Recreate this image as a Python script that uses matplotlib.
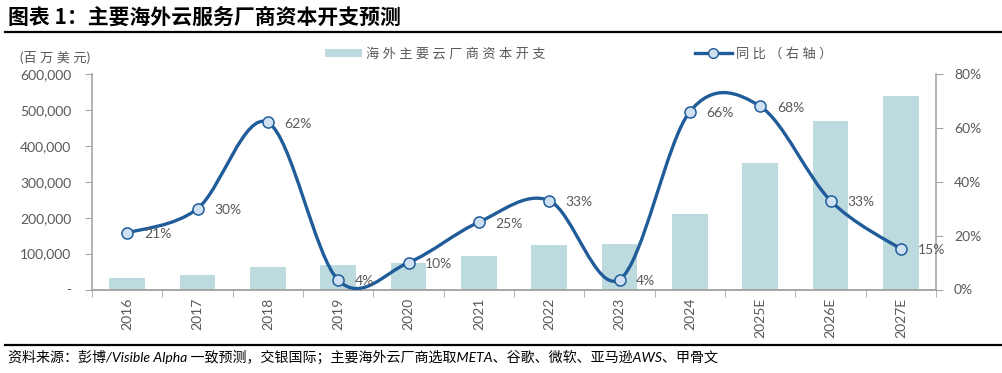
import matplotlib.pyplot as plt
from matplotlib.path import Path
from matplotlib.patches import PathPatch, Patch
from matplotlib.lines import Line2D
from matplotlib.ticker import FuncFormatter

plt.rcParams['font.family'] = ['Lato', 'Noto Sans CJK SC', 'DejaVu Sans']

# data
years = ['2016', '2017', '2018', '2019', '2020', '2021', '2022', '2023',
         '2024', '2025E', '2026E', '2027E']
capex = [31000, 39000, 64000, 67000, 73000, 92000, 123000, 128000,
         209000, 351000, 469000, 539000]
yoy = [0.21, 0.30, 0.62, 0.035, 0.10, 0.25, 0.33, 0.037, 0.66, 0.68, 0.33, 0.15]
yoy_labels = ['21%', '30%', '62%', '4%', '10%', '25%', '33%', '4%',
              '66%', '68%', '33%', '15%']

bar_color = '#BDDBDF'
line_color = '#1F5C99'
text_gray = '#595959'
spine_gray = '#A6A6A6'

W, H = 1003, 373
fig = plt.figure(figsize=(W / 100, H / 100), dpi=100)

# plot area in pixels
x0, x1, y0, y1 = 92, 936, 74, 289.5
ax = fig.add_axes([x0 / W, 1 - y1 / H, (x1 - x0) / W, (y1 - y0) / H])
ax2 = ax.twinx()

xs = list(range(len(years)))
ax.bar(xs, capex, width=0.51, color=bar_color, zorder=1)
ax.set_xlim(-0.5, len(years) - 0.5)
ax.set_ylim(0, 600000)
ax.set_yticks(range(0, 600001, 100000))
ax.yaxis.set_major_formatter(FuncFormatter(lambda v, p: '-' if v == 0 else f'{int(v):,}'))
ax.set_xticks(xs)
ax.set_xticklabels(years, rotation=90)
ax.set_xticks([i - 0.5 for i in range(len(years) + 1)], minor=True)
ax.tick_params(axis='x', which='major', length=0, pad=6, labelsize=10, labelcolor=text_gray)
ax.tick_params(axis='x', which='minor', length=5, direction='out', color=spine_gray)
ax.tick_params(axis='y', length=5, direction='out', color=spine_gray,
               labelsize=10, labelcolor=text_gray, pad=10)

ax2.set_ylim(0, 0.8)
ax2.set_yticks([0, 0.2, 0.4, 0.6, 0.8])
ax2.yaxis.set_major_formatter(FuncFormatter(lambda v, p: f'{v:.0%}'))
ax2.tick_params(axis='y', length=5, direction='out', color=spine_gray,
                labelsize=10, labelcolor=text_gray, pad=8)

for a in (ax, ax2):
    a.spines['top'].set_visible(False)
    for s in ('left', 'right', 'bottom'):
        a.spines[s].set_color(spine_gray)
        a.spines[s].set_linewidth(1.2)
ax.spines['right'].set_visible(False)
ax2.spines['left'].set_visible(False)

# smoothed line (excel-style bezier through the points, in axes fraction coords)
pts = [((x + 0.5) / len(years), v / 0.8) for x, v in zip(xs, yoy)]
verts = [pts[0]]
codes = [Path.MOVETO]
for i in range(len(pts) - 1):
    p0 = pts[i - 1] if i > 0 else pts[i]
    p1 = pts[i]
    p2 = pts[i + 1]
    p3 = pts[i + 2] if i + 2 < len(pts) else pts[i + 1]
    c1 = (p1[0] + (p2[0] - p0[0]) / 6, p1[1] + (p2[1] - p0[1]) / 6)
    c2 = (p2[0] - (p3[0] - p1[0]) / 6, p2[1] - (p3[1] - p1[1]) / 6)
    verts += [c1, c2, p2]
    codes += [Path.CURVE4] * 3
ax2.add_patch(PathPatch(Path(verts, codes), transform=ax2.transAxes, fill=False,
                        edgecolor=line_color, linewidth=2.4, zorder=3,
                        capstyle='round', clip_on=False))
ax2.plot(xs, yoy, linestyle='none', marker='o', markersize=8,
         markerfacecolor='#CFE0F2', markeredgecolor=line_color,
         markeredgewidth=1.1, zorder=4)
for x, v, lab in zip(xs, yoy, yoy_labels):
    ax2.annotate(lab, (x, v), xytext=(12, -1), textcoords='offset points',
                 ha='left', va='center', fontsize=10, color=text_gray, zorder=5)

# legend
handles = [Patch(facecolor=bar_color, edgecolor='none'),
           Line2D([], [], color=line_color, linewidth=2.4, marker='o', markersize=7,
                  markerfacecolor='#CFE0F2', markeredgecolor=line_color)]
labels = [' '.join('海外主要云厂商资本开支'), ' '.join('同比（右轴）')]
fig.legend(handles, labels, loc='center left', bbox_to_anchor=(318 / W, 1 - 53 / H),
           ncol=2, frameon=False, fontsize=9.5, handlelength=2.8, handleheight=0.6,
           handletextpad=0.35, columnspacing=11.3, labelcolor=text_gray, borderpad=0)

# unit label
fig.text(20 / W, 1 - 57 / H, '(百 万 美 元)', fontsize=9.5, color=text_gray,
         ha='left', va='center')

# title and rules
fig.text(8 / W, 1 - 17 / H, '图表 1：主要海外云服务厂商资本开支预测', fontsize=15,
         fontweight='bold', color='black', ha='left', va='center',
         family=['Noto Sans CJK SC', 'DejaVu Sans'])
fig.add_artist(Line2D([5 / W, 1], [1 - 32 / H] * 2, color='black', linewidth=1.6))
fig.add_artist(Line2D([5 / W, 1], [1 - 345 / H] * 2, color='black', linewidth=1.6))

fig.text(8 / W, 1 - 357 / H,
         '资料来源：彭博/Visible Alpha 一致预测，交银国际；主要海外云厂商选取META、谷歌、微软、亚马逊AWS、甲骨文',
         fontsize=10.1, style='italic', color='black', ha='left', va='center')

fig.savefig('out.png', dpi=100)
